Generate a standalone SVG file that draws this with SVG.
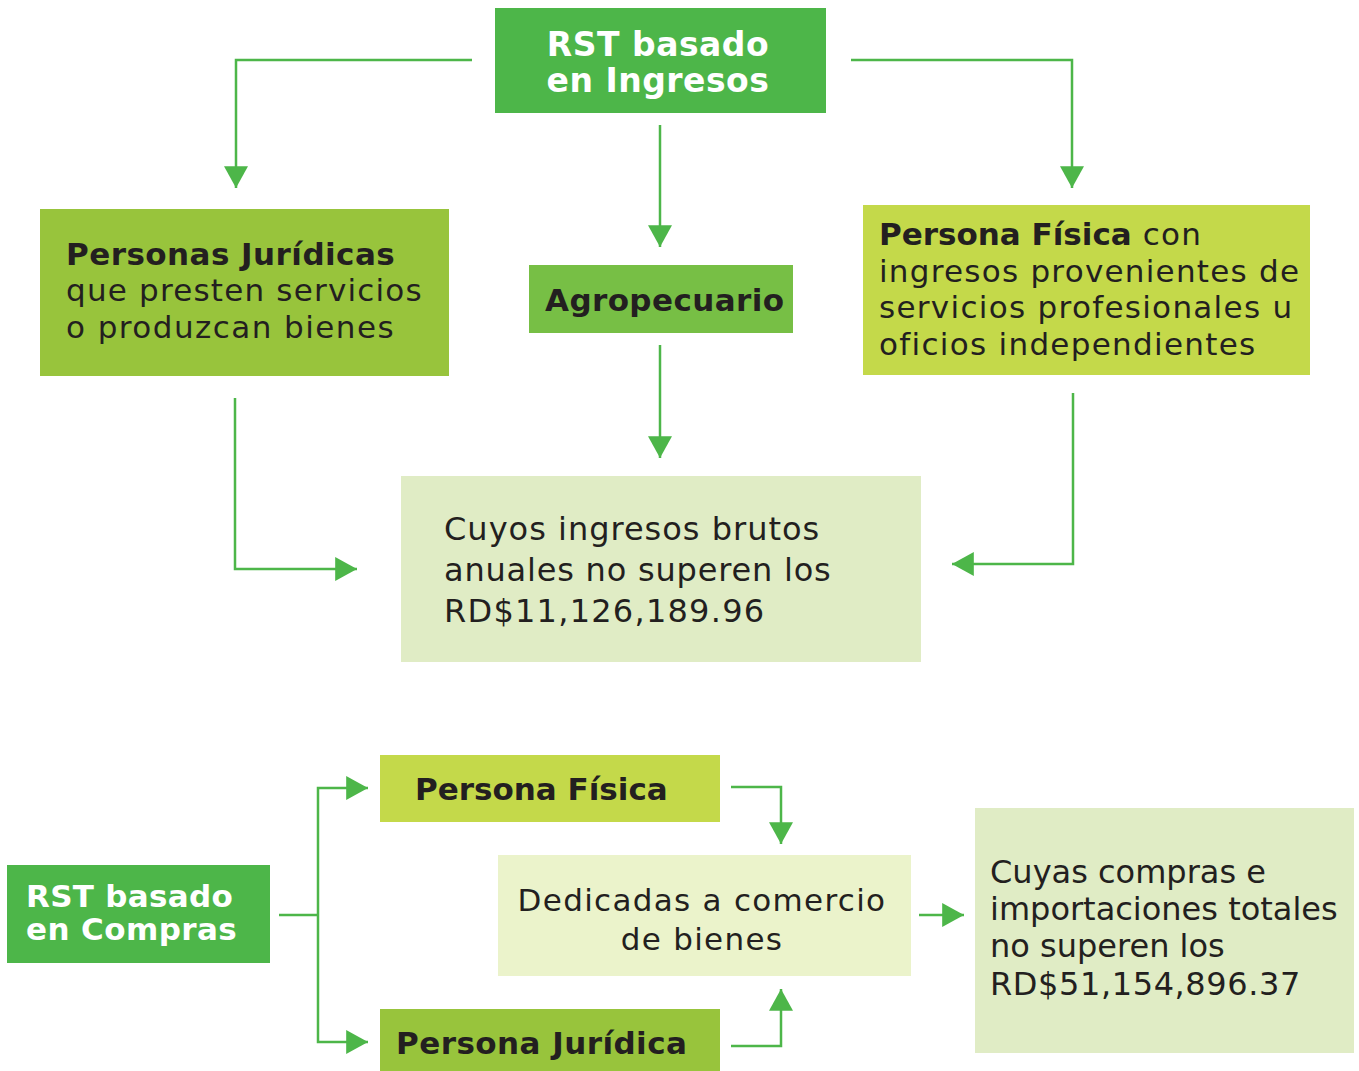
<svg xmlns="http://www.w3.org/2000/svg" width="1359" height="1071" viewBox="0 0 1359 1071">
<defs>
<style>
.t{font-family:"DejaVu Sans","Liberation Sans",sans-serif;fill:#231f20;}
.b{font-weight:bold;}
.w{fill:#ffffff;font-weight:bold;}
.c{fill:none;stroke:#4db649;stroke-width:2.5;}
</style>
<marker id="ah" markerUnits="userSpaceOnUse" markerWidth="22" markerHeight="24" viewBox="0 0 20 22" refX="20" refY="11" orient="auto">
<path d="M0,0 L20,11 L0,22 Z" fill="#4db649"/>
</marker>
</defs>
<rect width="1359" height="1071" fill="#ffffff"/>
<g id="connectors">
<path class="c" d="M472,60 H236 V188" marker-end="url(#ah)"/>
<path class="c" d="M851,60 H1072 V188" marker-end="url(#ah)"/>
<path class="c" d="M660,125 V247" marker-end="url(#ah)"/>
<path class="c" d="M660,345 V458" marker-end="url(#ah)"/>
<path class="c" d="M235,398 V569 H357" marker-end="url(#ah)"/>
<path class="c" d="M1073,393 V564 H952" marker-end="url(#ah)"/>
<path class="c" d="M279,915 H318"/>
<path class="c" d="M318,915 V788 H368" marker-end="url(#ah)"/>
<path class="c" d="M318,915 V1042 H368" marker-end="url(#ah)"/>
<path class="c" d="M731,787 H781 V844" marker-end="url(#ah)"/>
<path class="c" d="M731,1046 H781 V989" marker-end="url(#ah)"/>
<path class="c" d="M919,915 H964" marker-end="url(#ah)"/>
</g>
<g id="rst-ingresos">
<rect x="495" y="8" width="331" height="105" fill="#4db649"/>
<text class="t w" font-size="33" text-anchor="middle" x="658" y="56" letter-spacing="0.5">RST basado</text>
<text class="t w" font-size="33" text-anchor="middle" x="658" y="92" letter-spacing="0.5">en Ingresos</text>
</g>
<g id="personas-juridicas">
<rect x="40" y="209" width="409" height="167" fill="#98c43c"/>
<text class="t b" font-size="31" x="66" y="265" letter-spacing="0.45">Personas Jurídicas</text>
<text class="t" font-size="31" x="66" y="301" letter-spacing="1.2">que presten servicios</text>
<text class="t" font-size="31" x="66" y="338" letter-spacing="1.45">o produzcan bienes</text>
</g>
<g id="agropecuario">
<rect x="529" y="265" width="264" height="68" fill="#77bf45"/>
<text class="t b" font-size="31" x="545" y="311" letter-spacing="0.4">Agropecuario</text>
</g>
<g id="persona-fisica-ingresos">
<rect x="863" y="205" width="447" height="170" fill="#c4d94a"/>
<text class="t" font-size="31" x="879" y="245"><tspan font-weight="bold">Persona Física</tspan><tspan letter-spacing="1.2"> con</tspan></text>
<text class="t" font-size="31" x="879" y="282" letter-spacing="1.25">ingresos provenientes de</text>
<text class="t" font-size="31" x="879" y="318" letter-spacing="1.3">servicios profesionales u</text>
<text class="t" font-size="31" x="879" y="355" letter-spacing="1.3">oficios independientes</text>
</g>
<g id="cuyos-ingresos">
<rect x="401" y="476" width="520" height="186" fill="#e0ecc5"/>
<text class="t" font-size="32" x="444" y="540" letter-spacing="1.0">Cuyos ingresos brutos</text>
<text class="t" font-size="32" x="444" y="581" letter-spacing="0.8">anuales no superen los</text>
<text class="t" font-size="32" x="444" y="622" letter-spacing="1.25">RD$11,126,189.96</text>
</g>
<g id="rst-compras">
<rect x="7" y="865" width="263" height="98" fill="#4db649"/>
<text class="t w" font-size="31" x="26" y="907" letter-spacing="0.3">RST basado</text>
<text class="t w" font-size="31" x="26" y="940" letter-spacing="0.4">en Compras</text>
</g>
<g id="persona-fisica">
<rect x="380" y="755" width="340" height="67" fill="#c4d94a"/>
<text class="t b" font-size="31" x="415" y="800">Persona Física</text>
</g>
<g id="persona-juridica">
<rect x="380" y="1009" width="340" height="62" fill="#98c43c"/>
<text class="t b" font-size="31" x="396" y="1054" letter-spacing="0.45">Persona Jurídica</text>
</g>
<g id="dedicadas">
<rect x="498" y="855" width="413" height="121" fill="#ebf3cb"/>
<text class="t" font-size="31" text-anchor="middle" x="702" y="911" letter-spacing="1.3">Dedicadas a comercio</text>
<text class="t" font-size="31" text-anchor="middle" x="702" y="950" letter-spacing="1.3">de bienes</text>
</g>
<g id="cuyas-compras">
<rect x="975" y="808" width="379" height="245" fill="#e0ecc5"/>
<text class="t" font-size="32" x="990" y="883">Cuyas compras e</text>
<text class="t" font-size="32" x="990" y="920">importaciones totales</text>
<text class="t" font-size="32" x="990" y="957">no superen los</text>
<text class="t" font-size="32" x="990" y="995" letter-spacing="0.6">RD$51,154,896.37</text>
</g>
</svg>
